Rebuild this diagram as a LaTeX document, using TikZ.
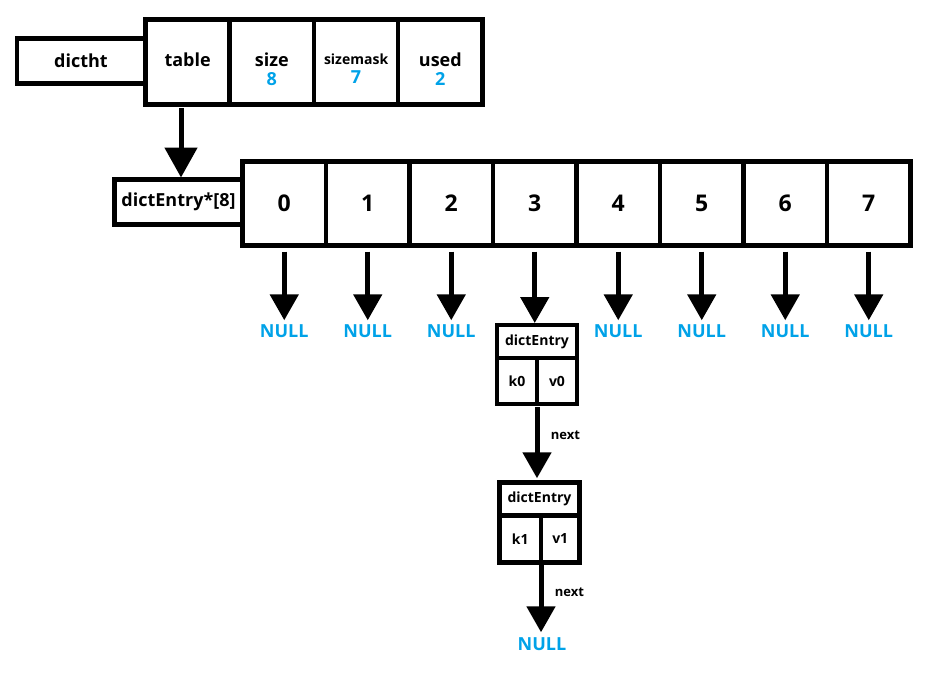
\documentclass[tikz,border=0pt]{standalone}
\usepackage{fontspec}
\setmainfont{Open Sans}
\usetikzlibrary{arrows.meta}
\usetikzlibrary{positioning}
\definecolor{nullblue}{RGB}{0,162,232}
\tikzset{cell/.style = {draw, line width=4.5pt, inner sep=0pt, outer sep=0pt,
                        align=center, font=\bfseries\fontsize{18}{19}\selectfont}}
\tikzset{field/.style = {cell, minimum width=84.25pt, minimum height=85pt}}
\tikzset{fieldtext/.style = {inner sep=0pt, align=center, font=\bfseries\fontsize{18}{19}\selectfont}}
\tikzset{small/.style = {font=\bfseries\fontsize{14}{16}\selectfont}}
\tikzset{ptr/.style = {line width=5pt, -{Triangle[length=26pt, width=28pt]}}}
\tikzset{bighead/.style = {-{Triangle[length=30pt, width=32pt]}}}
\tikzset{nullval/.style = {inner sep=2pt, text=nullblue,
                           font=\bfseries\fontsize{18}{20}\selectfont}}

\begin{document}
\begin{tikzpicture}[x=1pt, y=-1pt]
      \useasboundingbox (0, 0) rectangle (942, 682);

      % dictht
      \node [cell, minimum width=128pt, minimum height=45pt] (dictht) at (81, 61) {dictht};
      \node [field] (table) at (187.6, 62) {};
      \node [field, right=0pt of table] (size) {};
      \node [field, right=0pt of size] (sizemask) {};
      \node [field, right=0pt of sizemask] (used) {};
      \node [fieldtext] (tabletext) at ([yshift=-7pt]table.center) {table\\\phantom{8}};
      \node [fieldtext] (sizetext) at ([yshift=-7pt]size.center) {size\\{\color{nullblue}8}};
      \node [fieldtext] (sizemasktext) at ([yshift=-7pt]sizemask.center)
            {{\fontsize{14}{19}\selectfont sizemask}\\{\color{nullblue}7}};
      \node [fieldtext] (usedtext) at ([yshift=-7pt]used.center) {used\\{\color{nullblue}2}};

      % table array
      \node [cell, minimum width=128pt, minimum height=45pt] (dtype) at (178.5, 202) {dictEntry*[8]};
      \foreach \i in {0,...,7}
        \node [cell, minimum width=83.5pt, minimum height=84pt, font=\bfseries\fontsize{23}{25}\selectfont]
              (slot\i) at ({284.25 + 83.5*\i}, 203.5) {\i};

      \draw [ptr, bighead] ([xshift=-6.6pt, yshift=-4pt]table.south) -- ([xshift=2.5pt, yshift=2pt]dtype.north);

      \foreach \i in {0,1,2,4,5,6,7} {
        \node [nullval] (null\i) at ({284.25 + 83.5*\i}, 331) {NULL};
        \draw [ptr] ([yshift=-6pt]slot\i.south) -- ([yshift=2pt]null\i.north);
      }

      % entry chain
      \node [cell, small, minimum width=80pt, minimum height=33pt] (entry0) at (537, 341.5) {dictEntry};
      \node [cell, small, minimum width=40pt, minimum height=46pt, anchor=north west] (k0) at (entry0.south west) {k0};
      \node [cell, small, minimum width=40pt, minimum height=46pt, anchor=north west] (v0) at (k0.north east) {v0};
      \coordinate (entry0top) at ([yshift=2pt]entry0.north);
      \draw [ptr] ([yshift=-6pt]slot3.south) -- (slot3.south |- entry0top);

      \node [cell, small, minimum width=80pt, minimum height=33pt] (entry1) at (539.5, 498.75) {dictEntry};
      \node [cell, small, minimum width=41.5pt, minimum height=47pt, anchor=north west] (k1) at (entry1.south west) {k1};
      \node [cell, small, minimum width=38.5pt, minimum height=47pt, anchor=north west] (v1) at (k1.north east) {v1};
      \coordinate (entry1top) at ([yshift=4pt]entry1.north);
      \coordinate (k0down) at ([yshift=-3pt]k0.south east);
      \draw [ptr] (k0down) -- (k0down |- entry1top)
            node [pos=0.4, right=8pt, font=\bfseries\fontsize{13}{15}\selectfont] {next};

      \node [nullval] (null8) at (542, 644) {NULL};
      \coordinate (null8top) at ([yshift=3pt]null8.north);
      \coordinate (k1down) at ([yshift=-3pt]k1.south east);
      \draw [ptr] (k1down) -- (k1down |- null8top)
            node [pos=0.4, right=8pt, font=\bfseries\fontsize{13}{15}\selectfont] {next};
    \end{tikzpicture}
\end{document}
